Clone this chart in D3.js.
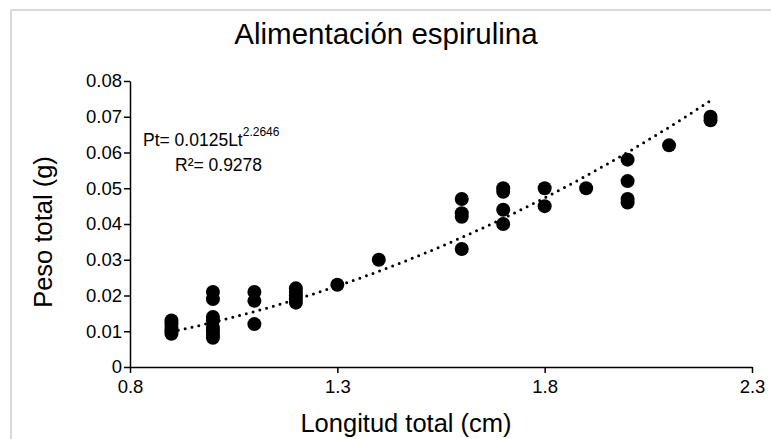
<!DOCTYPE html>
<html>
<head>
<meta charset="utf-8">
<script src="https://cdn.jsdelivr.net/npm/d3@7"></script>
<style>
  body { margin: 0; background: #fff; }
  text { font-family: "Liberation Sans", Arial, sans-serif; fill: #000; }
</style>
</head>
<body>
<div id="chart"></div>
<script>
// Longitud total (cm) of each measured fish
const longitud = [
  0.9, 0.9, 0.9, 0.9, 0.9,
  1.0, 1.0, 1.0, 1.0, 1.0, 1.0, 1.0, 1.0,
  1.1, 1.1, 1.1,
  1.2, 1.2, 1.2, 1.2, 1.2,
  1.3, 1.4,
  1.6, 1.6, 1.6, 1.6,
  1.7, 1.7, 1.7, 1.7,
  1.8, 1.8,
  1.9,
  2.0, 2.0, 2.0, 2.0,
  2.1,
  2.2, 2.2
];
// Peso total (g), same order
const peso = [
  0.013, 0.012, 0.011, 0.010, 0.0093,
  0.021, 0.019, 0.014, 0.013, 0.011, 0.010, 0.009, 0.0082,
  0.021, 0.0185, 0.012,
  0.022, 0.021, 0.020, 0.019, 0.018,
  0.023, 0.030,
  0.047, 0.043, 0.042, 0.033,
  0.050, 0.049, 0.044, 0.040,
  0.050, 0.045,
  0.050,
  0.058, 0.052, 0.047, 0.046,
  0.062,
  0.070, 0.069
];
const xTicks = [0.8, 1.3, 1.8, 2.3];
const yTicks = [0, 0.01, 0.02, 0.03, 0.04, 0.05, 0.06, 0.07, 0.08];
// power trendline reported by the chart: Pt = a * Lt^b
const fitA = 0.0125;
const fitB = 2.2646;
const fitR2 = 0.9278;

const W = 771, H = 439;
const svg = d3.select("#chart").append("svg")
  .attr("width", W).attr("height", H);

// light grey chart frame (cut off on the right and bottom)
svg.append("rect")
  .attr("x", 11).attr("y", 10)
  .attr("width", 800).attr("height", 500)
  .attr("fill", "none")
  .attr("stroke", "#d9d9d9")
  .attr("stroke-width", 2);

const x = d3.scaleLinear().domain([0.8, 2.3]).range([130, 752]);
const y = d3.scaleLinear().domain([0, 0.08]).range([367, 81]);

// y axis
const yAxis = svg.append("g")
  .attr("transform", "translate(130,0)")
  .call(d3.axisLeft(y).tickValues(yTicks).tickSize(6).tickSizeOuter(0)
    .tickFormat(d => d === 0 ? "0" : d3.format(".2f")(d)));
yAxis.select(".domain").attr("stroke", "#000").attr("stroke-width", 1.5);
yAxis.selectAll(".tick line").attr("stroke", "#000").attr("stroke-width", 1.5);
yAxis.selectAll(".tick text")
  .attr("x", -8)
  .attr("font-size", 18.5)
  .attr("font-family", "Liberation Sans, Arial, sans-serif")
  .attr("fill", "#000");

// x axis
const xAxis = svg.append("g")
  .attr("transform", "translate(0,367)")
  .call(d3.axisBottom(x).tickValues(xTicks).tickSize(6).tickSizeOuter(0)
    .tickFormat(d3.format(".1f")));
xAxis.select(".domain").attr("stroke", "#000").attr("stroke-width", 1.5);
xAxis.selectAll(".tick line").attr("stroke", "#000").attr("stroke-width", 1.5);
xAxis.selectAll(".tick text")
  .attr("y", 13)
  .attr("font-size", 18.5)
  .attr("font-family", "Liberation Sans, Arial, sans-serif")
  .attr("fill", "#000");

// points
svg.append("g")
  .selectAll("circle")
  .data(longitud.map((l, i) => [l, peso[i]]))
  .join("circle")
  .attr("cx", d => x(d[0]))
  .attr("cy", d => y(d[1]))
  .attr("r", 7)
  .attr("fill", "#000");

// dotted power trendline between the smallest and largest length
const lmin = d3.min(longitud), lmax = d3.max(longitud);
const fitPts = d3.range(0, 101).map(i => {
  const l = lmin + (lmax - lmin) * i / 100;
  return [l, fitA * Math.pow(l, fitB)];
});
svg.append("path")
  .datum(fitPts)
  .attr("d", d3.line().x(d => x(d[0])).y(d => y(d[1])))
  .attr("fill", "none")
  .attr("stroke", "#000")
  .attr("stroke-width", 3)
  .attr("stroke-linecap", "round")
  .attr("stroke-dasharray", "0 7");

// equation label
const eq = svg.append("text")
  .attr("x", 143).attr("y", 146)
  .attr("font-size", 17.5);
eq.append("tspan").text("Pt= " + fitA + "Lt");
eq.append("tspan").attr("dy", -10).attr("font-size", 12).text(fitB);
svg.append("text")
  .attr("x", 175).attr("y", 171)
  .attr("font-size", 17.5)
  .text("R²= " + fitR2);

// titles
svg.append("text")
  .attr("x", 386).attr("y", 44)
  .attr("text-anchor", "middle")
  .attr("font-size", 29.5)
  .text("Alimentación espirulina");
svg.append("text")
  .attr("x", 406).attr("y", 432)
  .attr("text-anchor", "middle")
  .attr("font-size", 25.5)
  .text("Longitud total (cm)");
svg.append("text")
  .attr("transform", "translate(52,232) rotate(-90)")
  .attr("text-anchor", "middle")
  .attr("font-size", 25.5)
  .text("Peso total (g)");
</script>
</body>
</html>
